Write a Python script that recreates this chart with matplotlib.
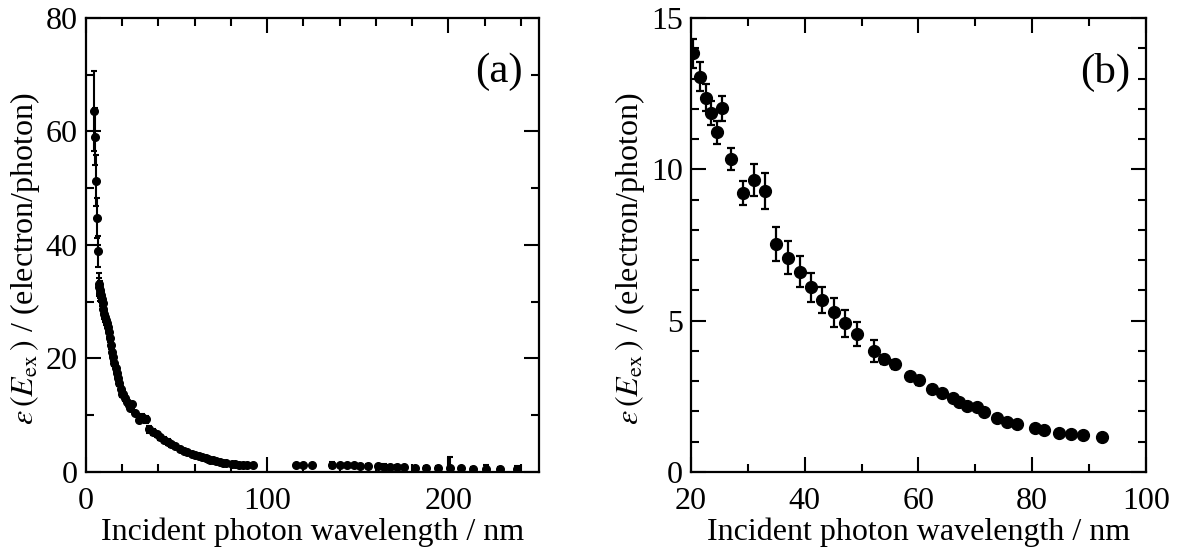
import numpy as np
import matplotlib
matplotlib.use('Agg')
import matplotlib.pyplot as plt
from matplotlib.ticker import MultipleLocator

plt.rcParams['font.family'] = ['Liberation Serif', 'DejaVu Serif']
plt.rcParams['mathtext.fontset'] = 'stix'

# short-wavelength points, only shown in panel (a)
x_low = [4.6, 5.0, 5.5, 6.3, 6.8, 7.0, 7.4, 7.7, 8.0, 8.3, 8.7, 9.2, 9.6, 10.1, 10.5,
         11.0, 11.5, 12.0, 12.6, 13.3, 13.9, 14.4, 15.0, 15.7, 16.3, 16.9, 17.6, 18.4,
         19.1, 19.9]
y_low = [63.6, 59.1, 51.3, 44.7, 38.9, 33.2, 32.6, 32.1, 31.6, 31.2, 30.5, 29.7, 28.8,
         27.9, 27.4, 26.8, 26.2, 25.6, 24.6, 23.6, 22.4, 21.2, 20.2, 19.2, 18.3, 17.4,
         16.5, 15.6, 14.7, 13.8]
e_low = [7.0, 5.0, 4.5, 3.5, 2.7, 1.8, 1.6, 1.5, 1.4, 1.3, 1.2, 1.1, 1.0, 1.0, 0.9,
         0.9, 0.8, 0.8, 0.8, 0.7, 0.7, 0.7, 0.6, 0.6, 0.6, 0.6, 0.5, 0.5, 0.5, 0.5]

# 20-92 nm points, shown in both panels
x_mid = [20.4, 21.6, 22.6, 23.5, 24.5, 25.5, 27.0, 29.1, 31.1, 33.1, 35.0, 37.1, 39.1,
         41.1, 43.1, 45.1, 47.1, 49.2, 52.1, 53.9, 55.9, 58.5, 60.1, 62.4, 64.1, 66.0,
         67.2, 68.6, 70.3, 71.5, 73.8, 75.5, 77.3, 80.4, 82.1, 84.7, 86.8, 88.9, 92.3]
y_mid = [13.83, 13.06, 12.37, 11.85, 11.22, 12.01, 10.34, 9.21, 9.65, 9.28, 7.52, 7.08,
         6.62, 6.11, 5.68, 5.28, 4.91, 4.56, 4.00, 3.72, 3.56, 3.17, 3.03, 2.75, 2.60,
         2.43, 2.30, 2.19, 2.14, 1.99, 1.79, 1.66, 1.57, 1.46, 1.39, 1.30, 1.27, 1.21,
         1.16]
e_mid = [0.47, 0.47, 0.44, 0.40, 0.38, 0.41, 0.37, 0.40, 0.54, 0.60, 0.56, 0.55, 0.50,
         0.48, 0.44, 0.48, 0.45, 0.41, 0.37, 0.15, 0.15, 0.10, 0.15, 0.10, 0.10, 0.10,
         0.10, 0.10, 0.10, 0.10, 0.10, 0.10, 0.10, 0.10, 0.10, 0.10, 0.10, 0.10, 0.10]

# long-wavelength points, only in panel (a)
x_high = [116.0, 119.7, 124.7, 135.7, 140.3, 144.0, 148.1, 151.4, 155.4, 160.9, 164.6,
          168.0, 171.7, 175.7, 181.8, 187.8, 194.1, 200.7, 207.2, 213.6, 221.0, 228.7,
          238.0]
y_high = [1.15, 1.15, 1.15, 1.20, 1.15, 1.15, 1.15, 1.10, 1.05, 1.00, 0.95, 0.90, 0.85,
          0.80, 0.75, 0.72, 0.70, 0.70, 0.62, 0.60, 0.55, 0.50, 0.50]
e_high = [0.3, 0.3, 0.3, 0.5, 0.3, 0.3, 0.3, 0.3, 0.3, 0.3, 0.4, 0.3, 0.3, 0.3, 0.3,
          0.3, 0.3, 2.0, 0.3, 0.3, 0.6, 0.3, 0.5]

ylab = r'$\varepsilon\,(E_{\rm ex}\,)$ / (electron/photon)'
xlab = 'Incident photon wavelength / nm'

fig = plt.figure(figsize=(11.83, 5.57), dpi=100)
axa = fig.add_axes([0.0727, 0.1526, 0.3829, 0.8151])
axb = fig.add_axes([0.5841, 0.1526, 0.3846, 0.8151])

xa = x_low + x_mid + x_high
ya = y_low + y_mid + y_high
ea = e_low + e_mid + e_high
axa.errorbar(xa, ya, yerr=ea, fmt='o', color='k', ms=5.5, elinewidth=1.5,
             capsize=2, capthick=1.5)
axb.errorbar(x_mid, y_mid, yerr=e_mid, fmt='o', color='k', ms=8.5, elinewidth=1.6,
             capsize=3, capthick=1.6)

axa.set_xlim(0, 250)
axa.set_ylim(0, 80)
axa.xaxis.set_major_locator(MultipleLocator(100))
axa.xaxis.set_minor_locator(MultipleLocator(20))
axa.yaxis.set_major_locator(MultipleLocator(20))
axa.yaxis.set_minor_locator(MultipleLocator(10))

axb.set_xlim(20, 100)
axb.set_ylim(0, 15)
axb.xaxis.set_major_locator(MultipleLocator(20))
axb.xaxis.set_minor_locator(MultipleLocator(10))
axb.yaxis.set_major_locator(MultipleLocator(5))
axb.yaxis.set_minor_locator(MultipleLocator(1))

for ax, tag in [(axa, '(a)'), (axb, '(b)')]:
    ax.tick_params(which='both', direction='in', top=True, right=True, width=1.5,
                   labelsize=23)
    ax.tick_params(axis='x', which='both', pad=11)
    ax.tick_params(axis='y', which='both', pad=6)
    ax.tick_params(which='major', length=10.5)
    ax.tick_params(which='minor', length=5.5)
    for s in ax.spines.values():
        s.set_linewidth(1.6)
    ax.set_xlabel(xlab, fontsize=23, labelpad=1)
    ax.set_ylabel(ylab, fontsize=23, labelpad=3)
    ax.yaxis.label.set_y(0.47)
    ax.text(0.965, 0.881, tag, transform=ax.transAxes, ha='right', va='center',
            fontsize=31)

fig.savefig('out.png', dpi=100)
